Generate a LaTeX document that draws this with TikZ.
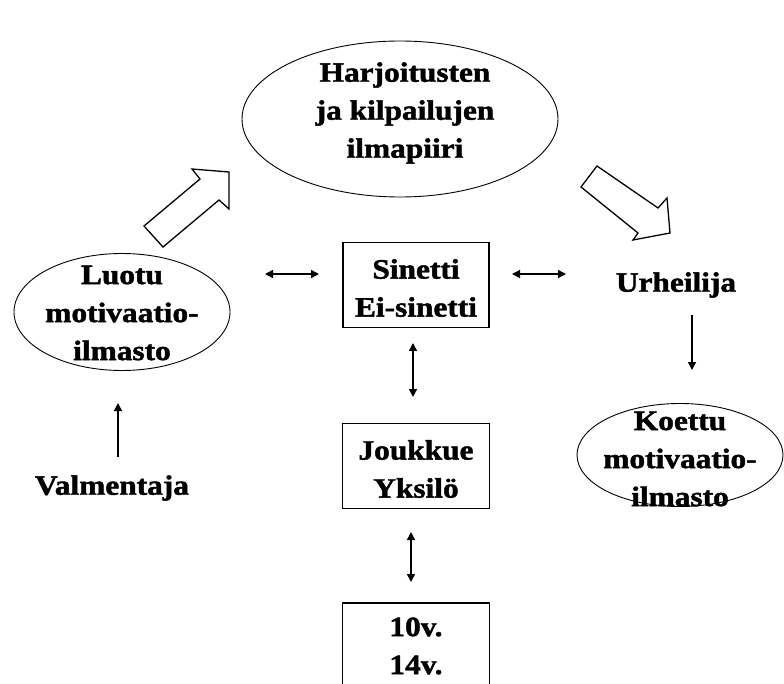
\documentclass[tikz,border=0pt]{standalone}
\usepackage{fontspec}
\setmainfont{Liberation Serif}[FakeStretch=1.12,FakeBold=1.6]
\usetikzlibrary{arrows.meta,shapes.geometric}
\begin{document}
\begin{tikzpicture}[x=1pt,y=-1pt,
  txt/.style={font=\fontsize{28}{38}\selectfont\bfseries, align=center, inner sep=0pt},
  ell/.style={draw, ellipse, line width=0.9pt, inner sep=0pt},
  boxnode/.style={draw, line width=1.3pt, inner sep=0pt},
  dbl/.style={line width=1.4pt, {Triangle[length=8pt,width=8pt]}-{Triangle[length=8pt,width=8pt]}},
  sgl/.style={line width=1.4pt, -{Triangle[length=8pt,width=8pt]}},
  hollow/.style={draw, line width=1.3pt, fill=white, line join=miter}]
\useasboundingbox (0,0) rectangle (784,684);
\clip (0,0) rectangle (784,684);
\fill[white] (0,0) rectangle (784,684);

% big ellipse
\node[ell, minimum width=316pt, minimum height=156pt] (top) at (400,119) {};
\node[txt] (toptext) at (405,113) {Harjoitusten\\ja kilpailujen\\ilmapiiri};

% left ellipse
\node[ell, minimum width=216pt, minimum height=117pt] (luotu) at (122,312) {};
\node[txt] (luotutext) at (122,313) {Luotu\\motivaatio-\\ilmasto};

% right ellipse
\node[ell, minimum width=206pt, minimum height=103pt] (koettu) at (680,455) {};
\node[txt] (koettutext) at (680,459) {Koettu\\motivaatio-\\ilmasto};

% boxes
\node[boxnode, minimum width=146pt, minimum height=85pt] (sinetti) at (416,285) {};
\node[txt] (sinettitext) at (416,288) {Sinetti\\Ei-sinetti};
\node[boxnode, minimum width=147pt, minimum height=85pt] (joukkue) at (416,466) {};
\node[txt] (joukkuetext) at (416,469) {Joukkue\\Yksilö};
\node[boxnode, minimum width=147pt, minimum height=120pt] (ika) at (416,663) {};
\node[txt] (ikatext) at (416,646) {10v.\\14v.};

% plain texts
\node[txt] (urheilija) at (676,285) {Urheilija};
\node[txt] (valmentaja) at (112,488) {Valmentaja};

% free arrow ends
\coordinate (hl1) at (265,274);
\coordinate (hl2) at (319,274);
\coordinate (hr1) at (512,274);
\coordinate (hr2) at (566,274);
\coordinate (v1a) at (413,343);
\coordinate (v1b) at (413,397);
\coordinate (v2a) at (411,532);
\coordinate (v2b) at (411,582);
\coordinate (ua) at (118,457);
\coordinate (ub) at (118,403);
\coordinate (da) at (692,315);
\coordinate (db) at (692,370);

\draw[dbl] (hl1) -- (hl2);
\draw[dbl] (hr1) -- (hr2);
\draw[dbl] (v1a) -- (v1b);
\draw[dbl] (v2a) -- (v2b);
\draw[sgl] (ua) -- (ub);
\draw[sgl] (da) -- (db);

% hollow block arrows
\draw[hollow] (144,226) -- (200,179) -- (192,169) -- (229,172) -- (229,209) -- (219,200) -- (163,247) -- cycle;
\draw[hollow] (597,166) -- (658,208) -- (667,198) -- (670,233) -- (633,240) -- (638,233) -- (581,187) -- cycle;
\end{tikzpicture}
\end{document}
